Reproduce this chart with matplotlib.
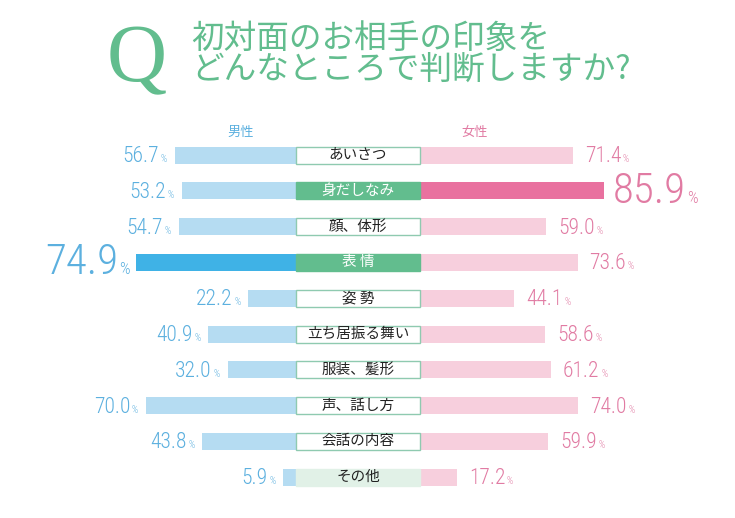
import numpy as np
import matplotlib
matplotlib.use("Agg")
from matplotlib import pyplot as plt

# data
items = ["あいさつ", "身だしなみ", "顔、体形", "表 情", "姿 勢",
         "立ち居振る舞い", "服装、髪形", "声、話し方", "会話の内容", "その他"]
male = [56.7, 53.2, 54.7, 74.9, 22.2, 40.9, 32.0, 70.0, 43.8, 5.9]
female = [71.4, 85.9, 59.0, 73.6, 44.1, 58.6, 61.2, 74.0, 59.9, 17.2]
male_top = 3      # 表情
female_top = 1    # 身だしなみ

GREEN = "#62bd8e"
BLUE_L = "#b5dcf2"
BLUE_D = "#3fb2e6"
BLUE_T = "#5cb0df"
PINK_L = "#f7cfdd"
PINK_D = "#e9719f"
PINK_T = "#e17ba3"

JP = ["Noto Sans CJK JP", "DejaVu Sans"]
NUM = ["Roboto Condensed", "Liberation Sans Narrow", "Roboto", "DejaVu Sans"]

PX = 2.14        # pixels per percent
ROW = 35.8       # pixels per row
BOX = 124 / PX   # width of centre box in percent units

fig = plt.figure(figsize=(7.35, 5.18), dpi=100)
ax = fig.add_axes([0, 0, 1, 1])
ax.set_xlim(-296 / PX, (735 - 296) / PX)
ax.set_ylim((518 - 155) / ROW, -155 / ROW)
ax.axis("off")

y = np.arange(len(items))
h = 17 / ROW

mcol = [BLUE_D if i == male_top else BLUE_L for i in y]
fcol = [PINK_D if i == female_top else PINK_L for i in y]
ax.barh(y, [-m for m in male], left=0, height=h, color=mcol, linewidth=0)
ax.barh(y, female, left=BOX, height=h, color=fcol, linewidth=0)

# centre boxes
for i, name in enumerate(items):
    hot = i in (male_top, female_top)
    if hot:
        fc, ec, tc = GREEN, GREEN, "white"
    elif name == "その他":
        fc, ec, tc = "#e1f1e7", "#e1f1e7", "#222222"
    else:
        fc, ec, tc = "white", "#8fcab0", "#222222"
    ax.barh(i, BOX, left=0, height=h, color=fc, edgecolor=ec, linewidth=1)
    ax.text(BOX / 2, i, name, ha="center", va="center", fontsize=10.5,
            color=tc, family=JP)

renderer = fig.canvas.get_renderer()


def value_label(v, i, side, big):
    num = f"{v:.1f}"
    fs, pfs = (31, 12) if big else (15.5, 7)
    dy = (12 if big else 7) / ROW
    gap = 0.5 if big else 1.2
    if side == "right":
        x = BOX + v + (9 if big else 12) / PX
        t = ax.text(x, i + dy, num, ha="left", va="baseline", fontsize=fs,
                    color=PINK_T, family=NUM, weight="light")
        w = t.get_window_extent(renderer).width * 72 / fig.dpi
        ax.annotate("%", xy=(x, i + dy), xytext=(w + gap, 0),
                    textcoords="offset points", ha="left", va="baseline",
                    fontsize=pfs, color=PINK_T, family=NUM, weight="light")
    else:
        x = -v - (6 if big else 8) / PX
        p = ax.text(x, i + dy, "%", ha="right", va="baseline", fontsize=pfs,
                    color=BLUE_T, family=NUM, weight="light")
        w = p.get_window_extent(renderer).width * 72 / fig.dpi
        ax.annotate(num, xy=(x, i + dy), xytext=(-w - gap, 0),
                    textcoords="offset points", ha="right", va="baseline",
                    fontsize=fs, color=BLUE_T, family=NUM, weight="light")


for i in y:
    value_label(male[i], i, "left", i == male_top)
    value_label(female[i], i, "right", i == female_top)

# headers
ax.text((241 - 296) / PX, (132 - 155) / ROW, "男性", ha="center", va="center",
        fontsize=9.5, color=BLUE_T, family=JP)
ax.text((475 - 296) / PX, (132 - 155) / ROW, "女性", ha="center", va="center",
        fontsize=9.5, color=PINK_T, family=JP)

# title
fig.text(137 / 735, 1 - 62 / 518, "Q", ha="center", va="center", fontsize=60,
         color=GREEN, family=["Liberation Serif", "DejaVu Serif"])
fig.text(191 / 735, 1 - 39 / 518, "初対面のお相手の印象を", ha="left",
         va="center", fontsize=23.5, color=GREEN, family=JP)
fig.text(191 / 735, 1 - 70 / 518, "どんなところで判断しますか?", ha="left",
         va="center", fontsize=23.5, color=GREEN, family=JP)

plt.savefig("out.png", dpi=100)
